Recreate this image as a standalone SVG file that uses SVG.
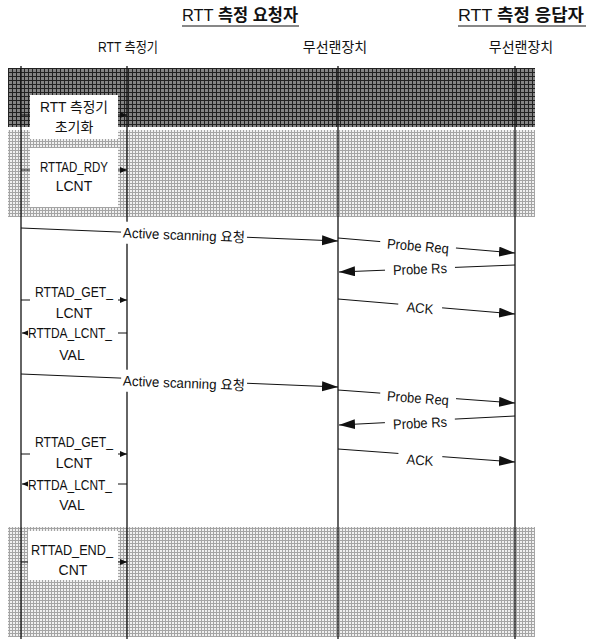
<svg xmlns="http://www.w3.org/2000/svg" width="604" height="639" viewBox="0 0 604 639">
<style>
text{font-family:"Liberation Sans","Noto Sans CJK KR",sans-serif;font-size:14px;fill:#111;text-anchor:middle}
.title{font-size:16.5px}
.kb{font-weight:bold}
.life{stroke:#111;stroke-width:1.3;fill:none}
.msg{stroke:#111;stroke-width:1;fill:none}
.big{marker-end:url(#bigArrow)}
.sm{marker-end:url(#smArrow)}
.lbl{fill:#fff}
.box{fill:#fff}
</style>
<defs>
<pattern id="dark" width="4" height="4" patternUnits="userSpaceOnUse">
<rect width="4" height="4" fill="#858585"/>
<path d="M0 0.5H4M0.5 0V4" stroke="#222" stroke-width="1"/>
</pattern>
<pattern id="light" width="3" height="3" patternUnits="userSpaceOnUse">
<rect width="3" height="3" fill="#f0f0f0"/>
<path d="M0 0.5H3M0.5 0V3" stroke="#a4a4a4" stroke-width="1"/>
</pattern>
<marker id="bigArrow" markerUnits="userSpaceOnUse" markerWidth="17" markerHeight="11" refX="16" refY="5" orient="auto">
<path d="M0,0 L16,5 L0,10 z" fill="#111"/>
</marker>
<marker id="smArrow" markerUnits="userSpaceOnUse" markerWidth="8" markerHeight="7" refX="7" refY="3" orient="auto">
<path d="M0,0 L7,3 L0,6 z" fill="#111"/>
</marker>
</defs>

<g id="bands">
<rect x="8" y="68" width="527" height="59" fill="url(#dark)"/>
<rect x="8" y="130" width="527" height="87" fill="url(#light)"/>
<rect x="8" y="527" width="527" height="110" fill="url(#light)"/>
</g>

<g id="titles">
<g id="title-requester">
<text class="title" x="240" y="21" textLength="116" lengthAdjust="spacingAndGlyphs">RTT <tspan class="kb">측정 요청자</tspan></text>
<line x1="182" y1="26" x2="299" y2="26" stroke="#111" stroke-width="1.2"/>
</g>
<g id="title-responder">
<text class="title" x="521" y="21" textLength="126" lengthAdjust="spacingAndGlyphs">RTT <tspan class="kb">측정 응답자</tspan></text>
<line x1="458" y1="26" x2="586" y2="26" stroke="#111" stroke-width="1.2"/>
</g>
</g>

<g id="actor-meter"><text x="128" y="52" textLength="60" lengthAdjust="spacingAndGlyphs">RTT 측정기</text></g>
<g id="actor-wlan-req"><text x="335" y="52">무선랜장치</text></g>
<g id="actor-wlan-resp"><text x="521" y="52">무선랜장치</text></g>

<g id="lifelines">
<line class="life" x1="21" y1="66" x2="21" y2="639"/>
<line class="life" x1="127" y1="66" x2="127" y2="639"/>
<line class="life" x1="338" y1="66" x2="338" y2="639"/>
<line class="life" x1="515" y1="66" x2="515" y2="639"/>
</g>

<g id="connectors">
<line class="msg sm" x1="21" y1="115" x2="127" y2="115"/>
<line class="msg sm" x1="21" y1="170" x2="127" y2="170"/>
<line class="msg sm" x1="21" y1="300" x2="127" y2="300"/>
<line class="msg sm" x1="127" y1="333" x2="22" y2="333"/>
<line class="msg sm" x1="21" y1="454" x2="127" y2="454"/>
<line class="msg sm" x1="127" y1="484" x2="22" y2="484"/>
<line class="msg sm" x1="21" y1="562" x2="127" y2="562"/>

<line class="msg big" x1="21" y1="228" x2="338" y2="241"/>
<line class="msg big" x1="338" y1="238" x2="515" y2="253"/>
<line class="msg big" x1="515" y1="265" x2="339" y2="272"/>
<line class="msg big" x1="338" y1="299" x2="515" y2="314"/>
<line class="msg big" x1="21" y1="374" x2="338" y2="387"/>
<line class="msg big" x1="338" y1="390" x2="515" y2="403"/>
<line class="msg big" x1="515" y1="416" x2="339" y2="425"/>
<line class="msg big" x1="338" y1="449" x2="515" y2="462"/>

<g id="lbl-as1" transform="translate(184,235) rotate(2.3)">
<rect class="lbl" x="-63" y="-11" width="126" height="22"/>
<text x="0" y="5" textLength="122" lengthAdjust="spacingAndGlyphs">Active scanning 요청</text>
</g>
<g id="lbl-req1" transform="translate(418,246) rotate(4.8)">
<rect class="lbl" x="-38" y="-9" width="76" height="18"/>
<text x="0" y="5" textLength="62" lengthAdjust="spacingAndGlyphs">Probe Req</text>
</g>
<g id="lbl-rs1" transform="translate(420,269) rotate(-2.3)">
<rect class="lbl" x="-35" y="-9" width="70" height="18"/>
<text x="0" y="5" textLength="54" lengthAdjust="spacingAndGlyphs">Probe Rs</text>
</g>
<g id="lbl-ack1" transform="translate(420,308) rotate(4.8)">
<rect class="lbl" x="-22" y="-9" width="44" height="18"/>
<text x="0" y="5" textLength="27" lengthAdjust="spacingAndGlyphs">ACK</text>
</g>
<g id="lbl-as2" transform="translate(184,383) rotate(2.3)">
<rect class="lbl" x="-63" y="-11" width="126" height="22"/>
<text x="0" y="5" textLength="122" lengthAdjust="spacingAndGlyphs">Active scanning 요청</text>
</g>
<g id="lbl-req2" transform="translate(418,398) rotate(4.2)">
<rect class="lbl" x="-38" y="-9" width="76" height="18"/>
<text x="0" y="5" textLength="62" lengthAdjust="spacingAndGlyphs">Probe Req</text>
</g>
<g id="lbl-rs2" transform="translate(420,423) rotate(-2.9)">
<rect class="lbl" x="-35" y="-9" width="70" height="18"/>
<text x="0" y="5" textLength="54" lengthAdjust="spacingAndGlyphs">Probe Rs</text>
</g>
<g id="lbl-ack2" transform="translate(420,460) rotate(4.2)">
<rect class="lbl" x="-22" y="-9" width="44" height="18"/>
<text x="0" y="5" textLength="27" lengthAdjust="spacingAndGlyphs">ACK</text>
</g>
</g>

<g id="box-init">
<rect class="box" x="30" y="95" width="88" height="44"/>
<text x="74" y="112" textLength="68" lengthAdjust="spacingAndGlyphs">RTT 측정기</text>
<text x="74" y="132">초기화</text>
</g>
<g id="box-rdy">
<rect class="box" x="30" y="148" width="88" height="59"/>
<text x="74" y="172" textLength="68" lengthAdjust="spacingAndGlyphs">RTTAD_RDY</text>
<text x="74" y="191">LCNT</text>
</g>
<g id="box-get1">
<rect class="box" x="30" y="282" width="88" height="40"/>
<text x="74" y="297" textLength="78" lengthAdjust="spacingAndGlyphs">RTTAD_GET_</text>
<text x="74" y="318">LCNT</text>
</g>
<g id="box-val1">
<rect class="box" x="28" y="325" width="90" height="40"/>
<text x="70" y="338" textLength="84" lengthAdjust="spacingAndGlyphs">RTTDA_LCNT_</text>
<text x="72" y="360">VAL</text>
</g>
<g id="box-get2">
<rect class="box" x="30" y="433" width="88" height="40"/>
<text x="74" y="447" textLength="78" lengthAdjust="spacingAndGlyphs">RTTAD_GET_</text>
<text x="74" y="468">LCNT</text>
</g>
<g id="box-val2">
<rect class="box" x="28" y="476" width="90" height="40"/>
<text x="70" y="490" textLength="84" lengthAdjust="spacingAndGlyphs">RTTDA_LCNT_</text>
<text x="72" y="510">VAL</text>
</g>
<g id="box-end">
<rect class="box" x="28" y="531" width="90" height="49"/>
<text x="72" y="555" textLength="82" lengthAdjust="spacingAndGlyphs">RTTAD_END_</text>
<text x="73" y="575">CNT</text>
</g>
</svg>
